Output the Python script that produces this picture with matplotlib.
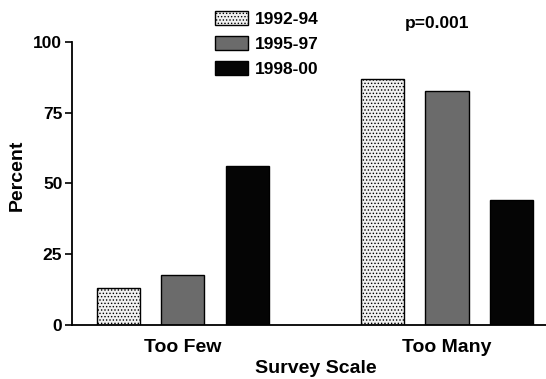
import matplotlib
matplotlib.use("Agg")
import matplotlib.pyplot as plt
import numpy as np

plt.rcParams['font.family'] = ['Liberation Sans', 'DejaVu Sans']
plt.rcParams['font.weight'] = 'bold'
plt.rcParams['hatch.color'] = '#9a9a9a'
plt.rcParams['hatch.linewidth'] = 0.6

categories = ["Too Few", "Too Many"]
series_names = ["1992-94", "1995-97", "1998-00"]
values = {
    "1992-94": [13, 87],
    "1995-97": [17.5, 82.5],
    "1998-00": [56, 44],
}
yticks = [0, 25, 50, 75, 100]

faces = ['#f0f0f0', '#6b6b6b', '#050505']
hatches = ['.....', None, None]

fig = plt.figure(figsize=(5.46, 3.79), dpi=100)
ax = fig.add_axes([0.132, 0.1425, 0.868, 0.747])

x = np.arange(len(categories))
w = 0.163
pitch = 0.244
handles = []
for i, name in enumerate(series_names):
    b = ax.bar(x + (i - 1) * pitch, values[name], width=w, color=faces[i],
               edgecolor='black', linewidth=1.0, hatch=hatches[i], label=name)
    handles.append(b)

ax.set_xlim(-0.42, 1.375)
ax.set_ylim(0, 100)
ax.set_yticks(yticks)
ax.set_yticklabels([str(t) for t in yticks], fontsize=12.5, fontweight='bold')
ax.set_xticks(x)
ax.set_xticklabels(categories, fontsize=14, fontweight='bold')
ax.tick_params(axis='x', length=0, pad=10)
ax.tick_params(axis='y', length=5, width=1.2, pad=2)
ax.spines['top'].set_visible(False)
ax.spines['right'].set_visible(False)
ax.spines['left'].set_linewidth(1.3)
ax.spines['bottom'].set_linewidth(1.3)

ax.set_ylabel("Percent", fontsize=14, fontweight='bold')
ax.yaxis.set_label_coords(-0.097, 0.53)
ax.set_xlabel("Survey Scale", fontsize=14, fontweight='bold')
ax.xaxis.set_label_coords(0.515, -0.125)

fig.legend(handles=handles, labels=series_names, loc='upper left',
           bbox_to_anchor=(0.366, 1.012), frameon=False,
           handlelength=1.9, handleheight=0.9, handletextpad=0.35, labelspacing=0.5,
           prop={'weight': 'bold', 'size': 12.5})

fig.text(0.742, 0.925, "p=0.001", fontsize=12.5, fontweight='bold')

fig.savefig("out.png", dpi=100)
